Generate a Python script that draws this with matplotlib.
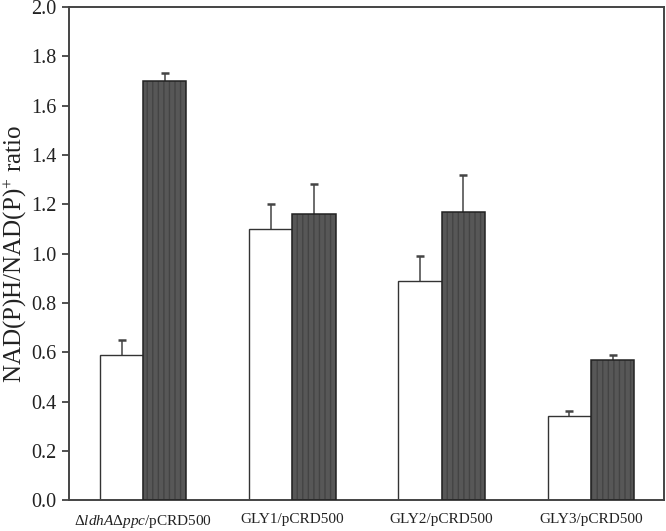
import matplotlib
matplotlib.use('Agg')
import matplotlib.pyplot as plt
import numpy as np

# --- data ---
strains = [r'$\Delta\mathit{ldhA}\Delta\mathit{ppc}$/pCRD500', 'GLY1/pCRD500',
           'GLY2/pCRD500', 'GLY3/pCRD500']
white_vals = [0.59, 1.10, 0.89, 0.34]
white_err = [0.06, 0.10, 0.10, 0.02]
dark_vals = [1.70, 1.16, 1.17, 0.57]
dark_err = [0.03, 0.12, 0.15, 0.02]
yticks = [0.0, 0.2, 0.4, 0.6, 0.8, 1.0, 1.2, 1.4, 1.6, 1.8, 2.0]

plt.rcParams['font.family'] = ['Liberation Serif', 'DejaVu Serif']
plt.rcParams['mathtext.fontset'] = 'custom'
plt.rcParams['mathtext.rm'] = 'Liberation Serif'
plt.rcParams['mathtext.it'] = 'Liberation Serif:italic'

fig = plt.figure(figsize=(6.66, 5.31), dpi=100)
ax = fig.add_axes([0.103, 0.058, 0.894, 0.929])

x = np.arange(len(strains))
w = 0.29

# white bars
ax.bar(x - w / 2, white_vals, width=w, color='white', edgecolor='#333333', linewidth=1.0, zorder=2)
# dark hatched bars: fill + fine stripes, then outline
ax.bar(x + w / 2, dark_vals, width=w, color='#575757', edgecolor='#444444', hatch='|||',
       linewidth=0, zorder=2)
ax.bar(x + w / 2, dark_vals, width=w, fill=False, edgecolor='#222222', linewidth=1.1, zorder=3)

# error bars drawn behind the bars, so only the upper half shows
ax.errorbar(x - w / 2, white_vals, yerr=white_err, fmt='none',
            ecolor='#444444', elinewidth=1.1, capsize=3, capthick=1.8, zorder=1)
ax.errorbar(x + w / 2, dark_vals, yerr=dark_err, fmt='none',
            ecolor='#444444', elinewidth=1.1, capsize=3, capthick=1.8, zorder=1)

ax.set_xlim(-0.5, 3.49)
ax.set_ylim(0, 2.0)
ax.set_yticks(yticks)
ax.set_yticklabels(['%.1f' % v for v in yticks], fontsize=14.5, color='#222222')
ax.set_xticks(x)
ax.set_xticklabels(strains, fontsize=11, color='#222222')
ax.tick_params(axis='x', length=0, pad=9)
ax.tick_params(axis='y', direction='out', length=5, width=1.2, color='#333333', pad=4)
ax.set_ylabel(r'NAD(P)H/NAD(P)$^{+}$ ratio', fontsize=18, color='#222222')
ax.yaxis.set_label_coords(-0.066, 0.5)

for s in ax.spines.values():
    s.set_linewidth(1.4)
    s.set_color('#444444')

fig.savefig('out.png', dpi=100)
